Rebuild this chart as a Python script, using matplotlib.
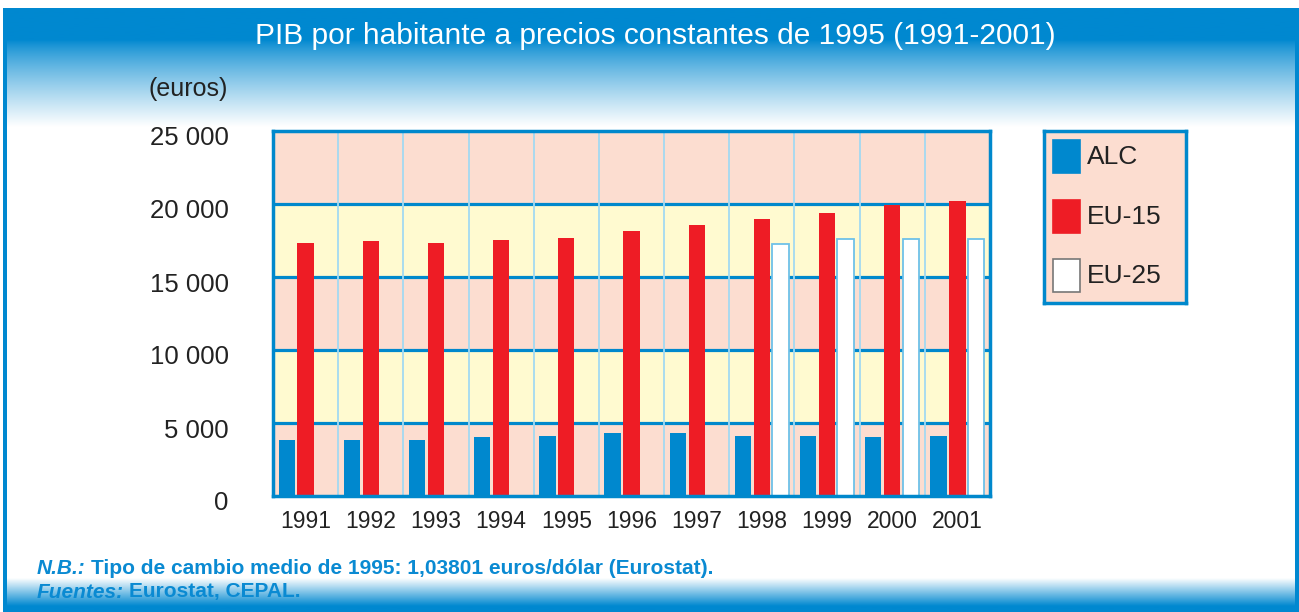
import matplotlib
matplotlib.use("Agg")
import matplotlib.pyplot as plt
import matplotlib.transforms as mtransforms
import numpy as np
from matplotlib.colors import to_rgba
from matplotlib.patches import Rectangle

years = ["1991", "1992", "1993", "1994", "1995", "1996", "1997", "1998", "1999", "2000", "2001"]
alc = [3830, 3830, 3830, 4040, 4100, 4310, 4310, 4100, 4100, 4040, 4100]
eu15 = [17320, 17450, 17320, 17520, 17660, 18140, 18560, 18970, 19380, 19930, 20210]
eu25 = [None, None, None, None, None, None, None, 17290, 17610, 17610, 17610]
yticks = [0, 5000, 10000, 15000, 20000, 25000]
ytick_labels = ["0", "5 000", "10 000", "15 000", "20 000", "25 000"]
series_names = ["ALC", "EU-15", "EU-25"]

BLUE = "#0088CE"
RED = "#EE1C25"
PINK = "#FCDDD0"
YELLOW = "#FFFAD0"
GRID = "#0088CC"
SEP = "#A3D9F2"
FONT = ["Liberation Sans", "DejaVu Sans"]
FOOT = "#0A8AD2"

W, H = 1299, 612
fig = plt.figure(figsize=(W / 100, H / 100), dpi=100)

# ---- background decorations (pixel coordinates) ----
bg = fig.add_axes([0, 0, 1, 1], zorder=-10)
bg.set_xlim(0, W)
bg.set_ylim(H, 0)
bg.axis("off")

top_blue = np.array(to_rgba("#0088D0"))
white = np.array(to_rgba("white"))
n = 200
ys = np.linspace(8, 127, n)
t = np.clip((ys - 40) / (127 - 40), 0, 1)
t = t ** 0.8
grad = top_blue[None, :] * (1 - t[:, None]) + white[None, :] * t[:, None]
bg.imshow(grad[:, None, :], extent=(4, 1296, 127, 8), aspect="auto", origin="upper", interpolation="bilinear")

ys2 = np.linspace(578, 612, n)
t2 = np.clip((ys2 - 578) / (606 - 578), 0, 1)
grad2 = white[None, :] * (1 - t2[:, None]) + top_blue[None, :] * t2[:, None]
bg.imshow(grad2[:, None, :], extent=(4, 1296, 612, 578), aspect="auto", origin="upper", interpolation="bilinear")

bg.add_patch(Rectangle((3, 8), 4, 604, color="#0088D0", lw=0))
bg.add_patch(Rectangle((1295, 8), 4, 604, color="#0088D0", lw=0))

fig.text(655 / W, 1 - 36 / H, "PIB por habitante a precios constantes de 1995 (1991-2001)",
         color="white", fontsize=21.5, family=FONT, ha="center", va="center")
fig.text(228 / W, 1 - 89 / H, "(euros)", color="#222222", fontsize=18, family=FONT,
         ha="right", va="center")

# ---- main axes ----
left, right, top, bottom = 273, 990, 131, 496
ax = fig.add_axes([left / W, 1 - bottom / H, (right - left) / W, (bottom - top) / H])
ax.set_xlim(-0.5, len(years) - 0.5)
ax.set_ylim(0, 25000)

for i in range(5):
    ax.axhspan(i * 5000, (i + 1) * 5000, color=PINK if i % 2 == 0 else YELLOW, lw=0, zorder=0)
for yv in yticks[1:-1]:
    ax.axhline(yv, color=GRID, lw=2.3, zorder=1)
for i in range(len(years) - 1):
    ax.axvline(i + 0.5, color=SEP, lw=1.3, zorder=1)

x = np.arange(len(years))
bw = 0.25
ax.bar(x - 0.29, alc, width=bw, color=BLUE, lw=0, zorder=3)
ax.bar(x, eu15, width=bw, color=RED, lw=0, zorder=3)
x25 = [xi + 0.285 for xi, v in zip(x, eu25) if v is not None]
v25 = [v for v in eu25 if v is not None]
ax.bar(x25, v25, width=bw, color="white", edgecolor="#6EC1E8", lw=1.3, zorder=3)

for s in ax.spines.values():
    s.set_color(GRID)
    s.set_linewidth(2.5)
    s.set_zorder(4)

ax.set_yticks(yticks)
ax.set_yticklabels(ytick_labels, family=FONT, fontsize=18.5, color="#222222")
ax.set_xticks(x)
ax.set_xticklabels(years, family=FONT, fontsize=16.5, color="#222222")
ax.tick_params(axis="y", length=0, pad=32)
ax.tick_params(axis="x", length=0, pad=10)
shift = mtransforms.ScaledTranslation(0, -5 / 100, fig.dpi_scale_trans)
for lab in ax.get_yticklabels():
    lab.set_transform(lab.get_transform() + shift)

# ---- legend ----
lg = fig.add_axes([1044 / W, 1 - 303 / H, (1186 - 1044) / W, (303 - 131) / H])
lg.set_xlim(1044, 1186)
lg.set_ylim(303, 131)
lg.set_xticks([])
lg.set_yticks([])
lg.set_facecolor(PINK)
for s in lg.spines.values():
    s.set_color(GRID)
    s.set_linewidth(2.5)
sw_colors = [BLUE, RED, "white"]
sw_edges = [BLUE, RED, "#777777"]
sw_y = [140, 200, 259]
for name, c, e, y0 in zip(series_names, sw_colors, sw_edges, sw_y):
    lg.add_patch(Rectangle((1052.5, y0), 27, 32.5, facecolor=c, edgecolor=e, lw=1.2))
    lg.text(1087, y0 + 17, name, fontsize=19, family=FONT, color="#222222", va="center", ha="left")

# ---- footer ----
fig.canvas.draw()
r = fig.canvas.get_renderer()


def two_part(xp, yp, a, b):
    t1 = fig.text(xp / W, 1 - yp / H, a, color=FOOT, fontsize=15, family=FONT,
                  fontweight="bold", style="italic", ha="left", va="center")
    bb = t1.get_window_extent(renderer=r)
    fig.text((bb.x1 + 5) / W, 1 - yp / H, b, color=FOOT, fontsize=15, family=FONT,
             fontweight="bold", ha="left", va="center")


two_part(37, 569, "N.B.:", "Tipo de cambio medio de 1995: 1,03801 euros/dólar (Eurostat).")
two_part(37, 592, "Fuentes:", "Eurostat, CEPAL.")

fig.savefig("out.png", dpi=100)
